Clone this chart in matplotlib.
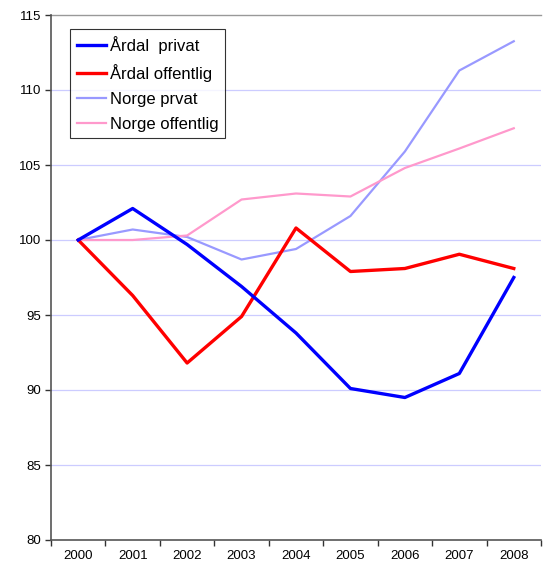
import matplotlib.pyplot as plt
import numpy as np

plt.rcParams['font.family'] = ['Liberation Sans', 'DejaVu Sans']

years = ['2000', '2001', '2002', '2003', '2004', '2005', '2006', '2007', '2008']
ardal_privat = [100, 102.1, 99.7, 96.9, 93.8, 90.1, 89.5, 91.1, 97.5]
ardal_offentlig = [100, 96.3, 91.8, 94.9, 100.8, 97.9, 98.1, 99.05, 98.1]
norge_prvat = [100, 100.7, 100.2, 98.7, 99.4, 101.6, 105.9, 111.3, 113.25]
norge_offentlig = [100, 100.0, 100.3, 102.7, 103.1, 102.9, 104.8, 106.1, 107.45]

fig = plt.figure(figsize=(5.45, 5.64), dpi=100)
ax = fig.add_axes([51 / 545, 24 / 564, 490 / 545, 525 / 564])

x = np.arange(len(years))
ax.plot(x, ardal_privat, color='#0000FF', lw=2.4, label='Årdal  privat', zorder=5)
ax.plot(x, ardal_offentlig, color='#FF0000', lw=2.4, label='Årdal offentlig', zorder=4)
ax.plot(x, norge_prvat, color='#9999FF', lw=1.6, label='Norge prvat', zorder=3)
ax.plot(x, norge_offentlig, color='#FF99CC', lw=1.6, label='Norge offentlig', zorder=3)

ax.set_xlim(-0.5, len(years) - 0.5)
ax.set_ylim(80, 115)
ax.set_yticks(np.arange(80, 116, 5))
for v in np.arange(85, 115, 5):
    ax.axhline(v, color='#CCCCFF', lw=0.9, zorder=1)
ax.axhline(115, color='#999999', lw=1.0, zorder=1, clip_on=False)

ax.set_xticks(x)
ax.set_xticklabels(years)
ax.set_xticks(np.arange(-0.5, len(years), 1), minor=True)
ax.tick_params(axis='x', which='major', length=0, pad=7, labelsize=9.5)
ax.tick_params(axis='x', which='minor', length=4, width=1, color='#333333', direction='out')
ax.tick_params(axis='y', length=4, width=1, color='#333333', labelsize=9.5, pad=3)

for s in ['top', 'right']:
    ax.spines[s].set_visible(False)
for s in ['left', 'bottom']:
    ax.spines[s].set_color('#555555')
    ax.spines[s].set_linewidth(1.2)

leg = ax.legend(loc='upper left', bbox_to_anchor=(0.039, 0.973), fontsize=12,
                frameon=True, fancybox=False, edgecolor='black', handlelength=1.75,
                handletextpad=0.25, borderpad=0.4, labelspacing=0.6, borderaxespad=0)
leg.get_frame().set_linewidth(0.8)

fig.savefig('out.png', dpi=100)
